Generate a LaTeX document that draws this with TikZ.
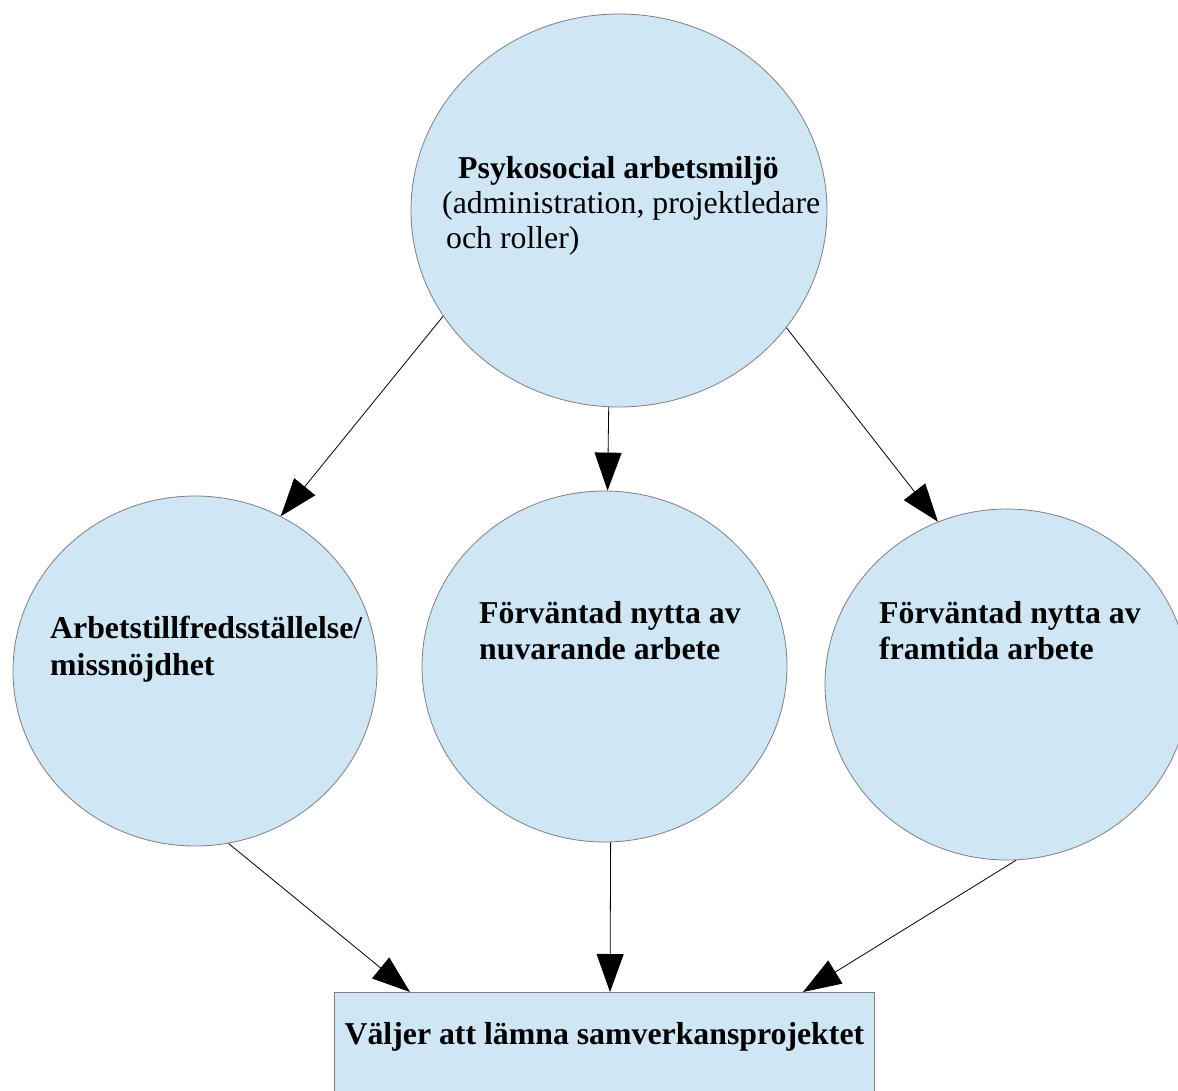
\documentclass[tikz,border=0pt]{standalone}
\usepackage{fontspec}
\setmainfont{Liberation Serif}
\usetikzlibrary{arrows.meta,shapes.geometric,calc}
\definecolor{bubble}{HTML}{CFE7F5}
\definecolor{rim}{HTML}{7F7F7F}
\begin{document}
\begin{tikzpicture}[x=1pt,y=-1pt,
  bubble/.style={ellipse,draw=rim,fill=bubble,line width=0.8pt,inner sep=0pt},
  lbl/.style={anchor=base west,align=left,inner sep=0pt,font=\fontsize{31.8}{35}\selectfont},
  lblb/.style={anchor=base west,align=left,inner sep=0pt,font=\fontsize{31.8}{36.5}\selectfont\bfseries},
  conn/.style={draw=black,line width=0.8pt,-{Triangle[length=38pt,width=27pt]}}]
\useasboundingbox (0,0) rectangle (1178,1091);
\clip (0,0) rectangle (1178,1091);
\fill[white] (0,0) rectangle (1178,1091);
\node[bubble,minimum width=416pt,minimum height=393pt] (top) at (619,210.5) {};
\node[bubble,minimum width=364pt,minimum height=350pt] (left) at (195,671) {};
\node[bubble,minimum width=365pt,minimum height=351pt] (mid) at (604.5,666.5) {};
\node[bubble,minimum width=364pt,minimum height=351pt] (right) at (1007,684.5) {};
\node[draw=rim,fill=bubble,line width=0.8pt,anchor=north west,minimum width=540pt,inner sep=0pt,
      text height=52pt,text depth=100pt,font=\fontsize{31.8}{36}\selectfont\bfseries] (leave) at (334,992) {Väljer att lämna samverkansprojektet};
\node[lbl] (ttop) at (442,249) {\hspace*{16pt}\textbf{Psykosocial arbetsmiljö}\\(administration, projektledare\\\hspace*{4pt}och roller)};
\node[lblb] (tleft) at (50,675) {Arbetstillfredsställelse/\\missnöjdhet};
\node[lblb] (tmid) at (479,659.5) {Förväntad nytta av\\nuvarande arbete};
\node[lblb] (tright) at (879,659.5) {Förväntad nytta av\\framtida arbete};
\draw[conn] (top.211) -- (left.61);
\draw[conn] (top.267) -- (mid.89);
\draw[conn] (top.325) -- (right.113);
\draw[conn] (left.281) -- ($(leave.north west)+(76,0)$);
\draw[conn] (mid.272) -- ($(leave.north west)+(276,0)$);
\draw[conn] (right.273) -- ($(leave.north west)+(469,0)$);
\end{tikzpicture}
\end{document}
